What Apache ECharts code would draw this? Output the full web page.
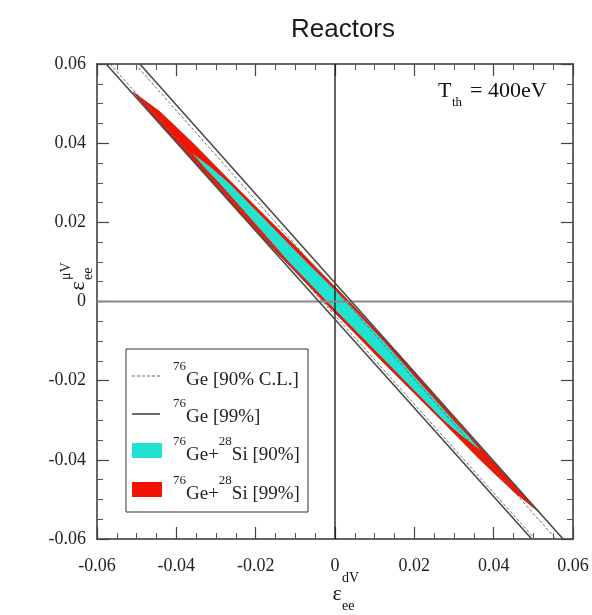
<!DOCTYPE html>
<html>
<head>
<meta charset="utf-8">
<title>Reactors</title>
<script src="https://cdn.jsdelivr.net/npm/echarts@6/dist/echarts.min.js"></script>
<style>
  html, body { margin: 0; padding: 0; background: #fff; }
  #chart { width: 592px; height: 615px; }
</style>
</head>
<body>
<div id="chart"></div>
<script>
// Axis range and tick labels (both couplings share the same range)
const axisMin = -0.06;
const axisMax = 0.06;
const tickStep = 0.02;
const tickLabels = ['-0.06', '-0.04', '-0.02', '0', '0.02', '0.04', '0.06'];

// 76Ge bounds: each line given by where it enters (top) and leaves (bottom) the frame
const ge90Lines = [
  [[-0.0567, 0.06], [0.0504, -0.06]],
  [[-0.0504, 0.06], [0.0557, -0.06]]
];
const ge99Lines = [
  [[-0.0577, 0.06], [0.0496, -0.06]],
  [[-0.0492, 0.06], [0.0575, -0.06]]
];

// 76Ge + 28Si allowed regions, boundary points (eps_dV, eps_uV)
const geSi99Region = [
  [-0.0509, 0.0529],
  [-0.0442, 0.048], [-0.0358, 0.040], [-0.0260, 0.030], [-0.0110, 0.015], [0.0036, 0.0],
  [0.0176, -0.015], [0.0305, -0.030], [0.0394, -0.040], [0.0466, -0.048],
  [0.0517, -0.0534],
  [0.0450, -0.048], [0.0366, -0.040], [0.0268, -0.030], [0.0118, -0.015], [-0.0028, 0.0],
  [-0.0172, 0.015], [-0.0306, 0.030], [-0.0396, 0.040], [-0.0468, 0.048]
];
const geSi90Region = [
  [-0.0360, 0.0375],
  [-0.0314, 0.034], [-0.0268, 0.030], [-0.0170, 0.020], [-0.0072, 0.010], [0.0029, 0.0],
  [0.0122, -0.010], [0.0210, -0.020], [0.0298, -0.030], [0.0336, -0.034],
  [0.0366, -0.0375],
  [0.0320, -0.034], [0.0274, -0.030], [0.0176, -0.020], [0.0078, -0.010], [-0.0020, 0.0],
  [-0.0116, 0.010], [-0.0204, 0.020], [-0.0292, 0.030], [-0.0330, 0.034]
];

const RED = '#f21400';
const CYAN = '#22e2d2';
const SERIF = '"Liberation Serif", "DejaVu Serif", serif';

function tickFormatter(v) {
  const i = Math.round((v - axisMin) / tickStep);
  return tickLabels[i] !== undefined ? tickLabels[i] : '';
}

function valueAxis(position, labelOpts) {
  return {
    type: 'value',
    position: position,
    min: axisMin,
    max: axisMax,
    interval: tickStep,
    axisLine: { show: true, onZero: false, lineStyle: { color: '#333', width: 1.5 } },
    axisTick: { show: true, inside: true, length: 12, lineStyle: { color: '#444', width: 1.2 } },
    minorTick: { show: true, splitNumber: 4, length: 6, lineStyle: { color: '#555', width: 1 } },
    splitLine: { show: false },
    minorSplitLine: { show: false },
    axisLabel: labelOpts ? Object.assign({
      show: true,
      formatter: tickFormatter,
      fontFamily: SERIF,
      fontSize: 18,
      color: '#222'
    }, labelOpts) : { show: false }
  };
}

function regionSeries(name, pts, fill, stroke, z) {
  return {
    type: 'custom',
    name: name,
    coordinateSystem: 'cartesian2d',
    xAxisIndex: 0,
    yAxisIndex: 0,
    data: pts,
    encode: { x: 0, y: 1 },
    silent: true,
    z: z,
    renderItem: function (params, api) {
      if (params.dataIndex !== 0) return null;
      return {
        type: 'polygon',
        shape: { points: pts.map(function (p) { return api.coord(p); }) },
        style: { fill: fill, stroke: stroke, lineWidth: stroke ? 0.7 : 0 }
      };
    }
  };
}

function boundLine(name, pts, style, z) {
  return {
    type: 'line',
    name: name,
    xAxisIndex: 0,
    yAxisIndex: 0,
    data: pts,
    symbol: 'none',
    silent: true,
    z: z,
    lineStyle: style
  };
}

const series = [
  regionSeries('76Ge+28Si [99%]', geSi99Region, RED, '#a81808', 2),
  regionSeries('76Ge+28Si [90%]', geSi90Region, CYAN, null, 3),
  // zero lines
  boundLine('zero-x', [[0, axisMin], [0, axisMax]], { color: '#111', width: 1.3 }, 4),
  boundLine('zero-y', [[axisMin, 0], [axisMax, 0]], { color: '#8a8a8a', width: 2 }, 4)
];
ge90Lines.forEach(function (l, i) {
  series.push(boundLine('76Ge [90% C.L.] ' + i, l, { color: '#6a6a6a', width: 1, type: [3, 2] }, 5));
});
ge99Lines.forEach(function (l, i) {
  series.push(boundLine('76Ge [99%] ' + i, l, { color: '#4a4a4a', width: 1.6 }, 5));
});

function legendEntry(y, text) {
  return {
    type: 'text',
    x: 173,
    y: y,
    style: {
      text: text,
      textVerticalAlign: 'middle',
      rich: {
        s: { fontFamily: SERIF, fontSize: 13, lineHeight: 13, verticalAlign: 'top', fill: '#222' },
        t: { fontFamily: SERIF, fontSize: 19, lineHeight: 30, verticalAlign: 'bottom', fill: '#222' }
      }
    },
    z: 101
  };
}

const option = {
  animation: false,
  backgroundColor: '#fff',
  grid: { left: 97, right: 19, top: 64, bottom: 76, containLabel: false },
  title: {
    text: 'Reactors',
    left: 338,
    top: 12,
    textAlign: 'center',
    textStyle: { fontFamily: '"Liberation Sans", Arial, sans-serif', fontSize: 26, fontWeight: 'normal', color: '#1a1a1a' }
  },
  xAxis: [
    valueAxis('bottom', { margin: 18 }),
    valueAxis('top', null)
  ],
  yAxis: [
    valueAxis('left', { margin: 11 }),
    valueAxis('right', null)
  ],
  series: series,
  graphic: [
    // threshold annotation
    { type: 'text', x: 438, y: 91, style: { text: 'T', font: '22px ' + SERIF, fill: '#111', textVerticalAlign: 'middle' } },
    { type: 'text', x: 452, y: 103, style: { text: 'th', font: '13px ' + SERIF, fill: '#111', textVerticalAlign: 'middle' } },
    { type: 'text', x: 470, y: 91, style: { text: '= 400eV', font: '22px ' + SERIF, fill: '#111', textVerticalAlign: 'middle' } },
    // x axis name: epsilon_ee^dV
    { type: 'text', x: 337, y: 594, style: { text: 'ε', font: '22px ' + SERIF, fill: '#111', textAlign: 'center', textVerticalAlign: 'middle' } },
    { type: 'text', x: 342, y: 578, style: { text: 'dV', font: '14px ' + SERIF, fill: '#111', textVerticalAlign: 'middle' } },
    { type: 'text', x: 342, y: 606, style: { text: 'ee', font: '14px ' + SERIF, fill: '#111', textVerticalAlign: 'middle' } },
    // y axis name: epsilon_ee^uV, rotated
    {
      type: 'group', x: 78, y: 286, rotation: Math.PI / 2,
      children: [
        { type: 'text', x: 0, y: 0, style: { text: 'ε', font: '22px ' + SERIF, fill: '#111', textAlign: 'center', textVerticalAlign: 'middle' } },
        { type: 'text', x: 6, y: -12, style: { text: 'μV', font: '14px ' + SERIF, fill: '#111', textVerticalAlign: 'middle' } },
        { type: 'text', x: 6, y: 10, style: { text: 'ee', font: '14px ' + SERIF, fill: '#111', textVerticalAlign: 'middle' } }
      ]
    },
    // legend box
    { type: 'rect', shape: { x: 126, y: 349, width: 182, height: 163 }, style: { fill: '#fff', stroke: '#333', lineWidth: 1 }, z: 100 },
    { type: 'line', shape: { x1: 132, y1: 376, x2: 160, y2: 376 }, style: { stroke: '#6a6a6a', lineWidth: 1, lineDash: [3, 2] }, z: 101 },
    { type: 'line', shape: { x1: 132, y1: 414, x2: 160, y2: 414 }, style: { stroke: '#6a6a6a', lineWidth: 2 }, z: 101 },
    { type: 'rect', shape: { x: 132, y: 443, width: 30, height: 15 }, style: { fill: CYAN }, z: 101 },
    { type: 'rect', shape: { x: 132, y: 482, width: 30, height: 15 }, style: { fill: RED }, z: 101 },
    legendEntry(375, '{s|76}{t|Ge [90% C.L.]}'),
    legendEntry(412, '{s|76}{t|Ge [99%]}'),
    legendEntry(450, '{s|76}{t|Ge+}{s|28}{t|Si [90%]}'),
    legendEntry(489, '{s|76}{t|Ge+}{s|28}{t|Si [99%]}')
  ]
};

const chart = echarts.init(document.getElementById('chart'), null, { renderer: 'canvas' });
chart.setOption(option);
</script>
</body>
</html>
